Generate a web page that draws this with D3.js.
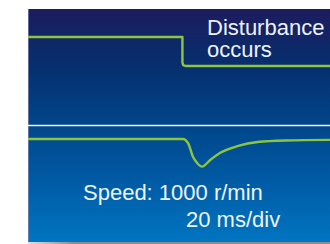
<!DOCTYPE html>
<html>
<head>
<meta charset="utf-8">
<script src="https://cdn.jsdelivr.net/npm/d3@7"></script>
<style>
  html, body { margin: 0; padding: 0; background: #fff; }
  svg { display: block; }
</style>
</head>
<body>
<svg id="chart" width="330" height="244"></svg>
<script>
// load disturbance (top trace): time in ms, normalized load level
const loadTimes = [0, 76.7, 76.7, 77.1, 78.2, 150];
const loadLevels = [1, 1, 0.12, 0.03, 0, 0];

// speed response (bottom trace): time in ms, speed in r/min
const speedTimes = [0, 77, 79.5, 82, 84, 86.5, 90.5, 95.5, 104, 114, 128, 150];
const speedValues = [1000, 1000, 993, 970, 960, 954, 965, 977, 988, 995, 997.5, 998.5];

const labelTop = ["Disturbance", "occurs"];
const labelSpeed = "Speed: 1000 r/min";
const labelDiv = "20 ms/div";

const svg = d3.select("#chart");
const panel = { x: 28, y: 9, w: 302, h: 233 };

const defs = svg.append("defs");
const grad = defs.append("linearGradient")
  .attr("id", "bg")
  .attr("x1", "0%").attr("y1", "0%")
  .attr("x2", "0%").attr("y2", "100%");
[[0, "#1c1c5e"], [0.25, "#062f6e"], [0.5, "#00468a"], [0.75, "#005ca6"], [1, "#0075c1"]]
  .forEach(([o, c]) => grad.append("stop").attr("offset", o).attr("stop-color", c));

const shade = defs.append("linearGradient")
  .attr("id", "shadow")
  .attr("x1", "0%").attr("x2", "100%");
shade.append("stop").attr("offset", 0).attr("stop-color", "#e0e0e0");
shade.append("stop").attr("offset", 0.15).attr("stop-color", "#8c8c8c");
shade.append("stop").attr("offset", 1).attr("stop-color", "#8c8c8c");

// drop shadow under the panel
svg.append("rect")
  .attr("x", panel.x).attr("y", panel.y + panel.h)
  .attr("width", panel.w).attr("height", 3)
  .attr("fill", "url(#shadow)");

svg.append("rect")
  .attr("x", panel.x).attr("y", panel.y)
  .attr("width", panel.w).attr("height", panel.h)
  .attr("fill", "url(#bg)");

// light left edge
svg.append("line")
  .attr("x1", panel.x + 0.5).attr("x2", panel.x + 0.5)
  .attr("y1", panel.y).attr("y2", panel.y + panel.h)
  .attr("stroke", "#8088b4").attr("stroke-opacity", 0.7);

// divider between traces
svg.append("line")
  .attr("x1", panel.x).attr("x2", panel.x + panel.w)
  .attr("y1", 125.5).attr("y2", 125.5)
  .attr("stroke", "#eef3fa").attr("stroke-width", 1.3);

// scales
const x = d3.scaleLinear().domain([0, 150]).range([panel.x, panel.x + panel.w]);
const yLoad = d3.scaleLinear().domain([0, 1]).range([66, 37]);
const ySpeed = d3.scaleLinear().domain([900, 1000]).range([199, 139]);

const lineColor = "#8cc63f";

const loadLine = d3.line()
  .x((d, i) => x(loadTimes[i]))
  .y(d => yLoad(d));

svg.append("path")
  .datum(loadLevels)
  .attr("d", loadLine)
  .attr("fill", "none")
  .attr("stroke", lineColor)
  .attr("stroke-width", 2.4)
  .attr("stroke-linejoin", "round");

const speedLine = d3.line()
  .x((d, i) => x(speedTimes[i]))
  .y(d => ySpeed(d))
  .curve(d3.curveMonotoneX);

svg.append("path")
  .datum(speedValues)
  .attr("d", speedLine)
  .attr("fill", "none")
  .attr("stroke", lineColor)
  .attr("stroke-width", 2.4);

// labels
const txt = svg.append("g")
  .attr("font-family", "'Liberation Sans', Arial, sans-serif")
  .attr("font-size", 22)
  .attr("fill", "#eef3fa");

txt.selectAll("text.top")
  .data(labelTop)
  .enter()
  .append("text")
  .attr("class", "top")
  .attr("x", 207)
  .attr("y", (d, i) => 35 + i * 22)
  .text(d => d);

txt.append("text").attr("x", 83).attr("y", 200).text(labelSpeed);
txt.append("text").attr("x", 186).attr("y", 227).text(labelDiv);
</script>
</body>
</html>
